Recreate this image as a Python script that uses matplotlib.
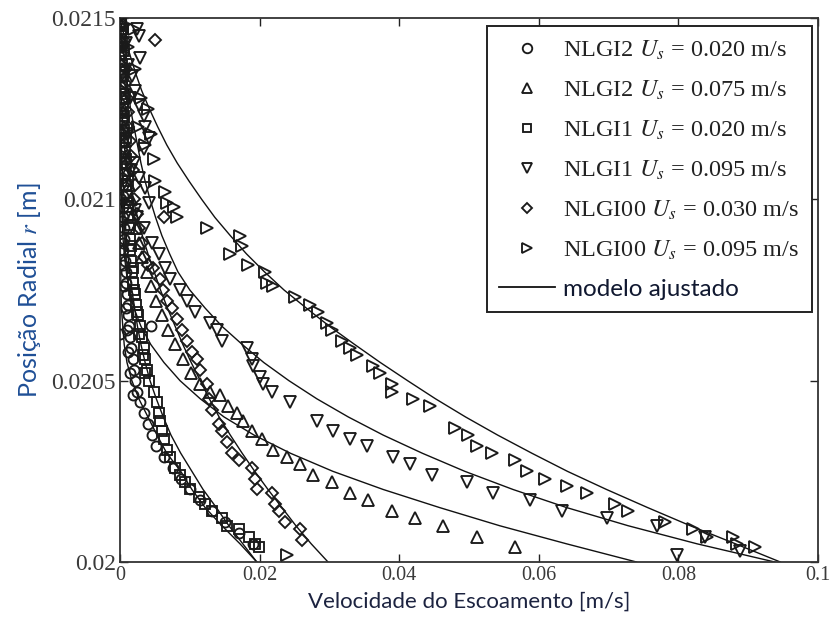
import matplotlib
matplotlib.use("Agg")
import matplotlib.pyplot as plt
from matplotlib.lines import Line2D

# ---------------- data ----------------
# radial levels used for the fitted-model curves
model_r = [0.02150, 0.02145, 0.02140, 0.02135, 0.02130, 0.02125, 0.02120, 0.02115,
           0.02110, 0.02105, 0.02100, 0.02095, 0.02090, 0.02085, 0.02080, 0.02075,
           0.02070, 0.02065, 0.02060, 0.02055, 0.02050, 0.02045, 0.02040, 0.02035,
           0.02030, 0.02025, 0.02020, 0.02015, 0.02010, 0.02005, 0.02000]

# fitted model velocities (m/s) at model_r
model_nlgi00_095 = [0.0, 0.0006, 0.0014, 0.0022, 0.0031, 0.0042, 0.0054, 0.0067, 0.0082, 0.0099,
                    0.0117, 0.0136, 0.0158, 0.0181, 0.0207, 0.0235, 0.0267, 0.0300, 0.0336, 0.0373,
                    0.0412, 0.0452, 0.0495, 0.0541, 0.0590, 0.0641, 0.0697, 0.0756, 0.0817, 0.0882, 0.0946]
model_nlgi1_095 = [0.0, 0.0002, 0.0005, 0.0008, 0.0012, 0.0015, 0.0020, 0.0025, 0.0030, 0.0036,
                   0.0043, 0.0051, 0.0060, 0.0071, 0.0083, 0.0100, 0.0122, 0.0146, 0.0175, 0.0206,
                   0.0242, 0.0282, 0.0327, 0.0377, 0.0433, 0.0494, 0.0563, 0.0640, 0.0728, 0.0827, 0.0938]
model_nlgi2_075 = [0.0, 0.0, 0.00001, 0.00001, 0.00002, 0.00003, 0.00004, 0.00007, 0.0001, 0.00014,
                   0.0002, 0.0003, 0.0004, 0.0006, 0.0009, 0.0013, 0.0020, 0.0030, 0.0044, 0.0063,
                   0.0086, 0.0115, 0.0149, 0.0192, 0.0244, 0.0305, 0.0377, 0.0458, 0.0544, 0.0640, 0.0740]
model_nlgi00_030 = [0.0, 0.00001, 0.00003, 0.00007, 0.00014, 0.0003, 0.0004, 0.0006, 0.0009, 0.0014,
                    0.0019, 0.0025, 0.0032, 0.0040, 0.0049, 0.0058, 0.0068, 0.0079, 0.0090, 0.0102,
                    0.0115, 0.0128, 0.0142, 0.0158, 0.0175, 0.0193, 0.0212, 0.0232, 0.0252, 0.0274, 0.0298]
model_nlgi2_020 = [0.0, 0.0, 0.0, 0.0, 0.0, 0.0, 0.0, 0.0, 0.00001, 0.00001,
                   0.00002, 0.00003, 0.00004, 0.00006, 0.0001, 0.00014, 0.0002, 0.0004, 0.0006, 0.0010,
                   0.0017, 0.0027, 0.0040, 0.0053, 0.0067, 0.0087, 0.0103, 0.0122, 0.0146, 0.0172, 0.0196]
model_nlgi1_020 = [0.0, 0.0, 0.00001, 0.00003, 0.00006, 0.0001, 0.00016, 0.0002, 0.0003, 0.0004,
                   0.0006, 0.0007, 0.0009, 0.0011, 0.0014, 0.0017, 0.0021, 0.0025, 0.0030, 0.0036,
                   0.0043, 0.0052, 0.0062, 0.0073, 0.0087, 0.0103, 0.0119, 0.0138, 0.0156, 0.0176, 0.0196]

# measured data: NLGI2, Us = 0.020 m/s (circles)
nlgi2_020_v = [0.0001, 0.0001, 0.0002, 0.0001, 0.0002, 0.0002, 0.0002, 0.0003, 0.0002, 0.0003,
               0.0003, 0.0003, 0.0004, 0.0003, 0.0004, 0.0004, 0.0005, 0.0004, 0.0005, 0.0006,
               0.0006, 0.0005, 0.0007, 0.0008, 0.0009, 0.0010, 0.0011, 0.0012, 0.0013, 0.0015,
               0.0016, 0.0018, 0.0020, 0.0022, 0.0025, 0.0029, 0.0034, 0.0040, 0.0046, 0.0052,
               0.0063, 0.0076, 0.0088, 0.0101, 0.0115, 0.0132, 0.0150, 0.0170, 0.0190,
               0.0000, 0.0000, 0.0045,
               0.0000, 0.0001, 0.0000, 0.0001, 0.0002, 0.0001, 0.0002, 0.0003, 0.0002, 0.0003,
               0.0004, 0.0005, 0.0006, 0.0008, 0.0010, 0.0012, 0.0015, 0.0019]
nlgi2_020_r = [0.02149, 0.02146, 0.02143, 0.02140, 0.02137, 0.02134, 0.02131, 0.02128, 0.02125, 0.02122,
               0.02119, 0.02116, 0.02113, 0.02110, 0.02107, 0.02104, 0.02101, 0.02098, 0.02095, 0.02092,
               0.02089, 0.02086, 0.02083, 0.02080, 0.02077, 0.02074, 0.02071, 0.02068, 0.02065, 0.02062,
               0.02059, 0.02056, 0.02053, 0.02050, 0.02047, 0.02044, 0.02041, 0.02038, 0.02035, 0.02032,
               0.02029, 0.02026, 0.02023, 0.02020, 0.02017, 0.02014, 0.02011, 0.02008, 0.02005,
               0.02086, 0.02063, 0.02065,
               0.02148, 0.02142, 0.02136, 0.02130, 0.02124, 0.02118, 0.02112, 0.02106, 0.02100, 0.02094,
               0.02088, 0.02082, 0.02076, 0.02070, 0.02064, 0.02058, 0.02052, 0.02046]

# NLGI2, Us = 0.075 m/s (up triangles)
nlgi2_075_v = [0.0001, 0.0002, 0.0001, 0.0003, 0.0002, 0.0004, 0.0005, 0.0006, 0.0007, 0.0009,
               0.0011, 0.0013, 0.0016, 0.0019, 0.0023, 0.0027, 0.0032, 0.0038, 0.0045, 0.0052,
               0.0060, 0.0069, 0.0079, 0.0090, 0.0102, 0.0115,
               0.0129, 0.0143, 0.0155, 0.0168, 0.0176, 0.0189, 0.0203, 0.0219, 0.0239, 0.0258,
               0.0277, 0.0304, 0.0330, 0.0355, 0.0390, 0.0423, 0.0463, 0.0511, 0.0566]
nlgi2_075_r = [0.02148, 0.02144, 0.02140, 0.02136, 0.02132, 0.02128, 0.02124, 0.02120, 0.02116, 0.02112,
               0.02108, 0.02104, 0.02100, 0.02096, 0.02092, 0.02088, 0.02084, 0.02080, 0.02076, 0.02072,
               0.02068, 0.02064, 0.02060, 0.02056, 0.02052, 0.02049,
               0.02047, 0.02046, 0.02043, 0.02041, 0.02039, 0.02036, 0.02034, 0.02031, 0.02029, 0.02027,
               0.02024, 0.02022, 0.02019, 0.02017, 0.02014, 0.02012, 0.02010, 0.02007, 0.02004]

# NLGI1, Us = 0.020 m/s (squares)
nlgi1_020_v = [0.0002, 0.0001, 0.0003, 0.0002, 0.0003, 0.0004, 0.0003, 0.0005, 0.0004, 0.0005,
               0.0006, 0.0005, 0.0007, 0.0008, 0.0007, 0.0009, 0.0010, 0.0011, 0.0012, 0.0013,
               0.0014, 0.0015, 0.0016, 0.0017, 0.0019, 0.0021, 0.0023, 0.0026, 0.0029, 0.0032,
               0.0034, 0.0036, 0.0038, 0.0041,
               0.0049, 0.0053, 0.0056, 0.0057, 0.0060, 0.0063, 0.0067, 0.0072, 0.0079, 0.0086,
               0.0093, 0.0100, 0.0113, 0.0122, 0.0132, 0.0146, 0.0153, 0.0170, 0.0185, 0.0193, 0.0199,
               0.0004, 0.0006, 0.0005, 0.0007, 0.0006, 0.0008, 0.0009, 0.0011, 0.0012, 0.0014,
               0.0016, 0.0018, 0.0020, 0.0024, 0.0027, 0.0033, 0.0036]
nlgi1_020_r = [0.02149, 0.02146, 0.02143, 0.02140, 0.02137, 0.02134, 0.02131, 0.02128, 0.02125, 0.02122,
               0.02119, 0.02116, 0.02113, 0.02110, 0.02107, 0.02104, 0.02101, 0.02098, 0.02095, 0.02092,
               0.02089, 0.02086, 0.02083, 0.02080, 0.02077, 0.02074, 0.02071, 0.02068, 0.02065, 0.02062,
               0.02059, 0.02056, 0.02053, 0.02050,
               0.02047, 0.02044, 0.02041, 0.02039, 0.02036, 0.02034, 0.02031, 0.02029, 0.02026, 0.02024,
               0.02022, 0.02020, 0.02018, 0.02016, 0.02014, 0.02012, 0.02010, 0.02009, 0.02007, 0.02005, 0.02004,
               0.02147, 0.02141, 0.02135, 0.02129, 0.02123, 0.02117, 0.02111, 0.02105, 0.02099, 0.02093,
               0.02087, 0.02081, 0.02075, 0.02069, 0.02063, 0.02057, 0.02052]

# NLGI1, Us = 0.095 m/s (down triangles)
nlgi1_095_v = [0.0024, 0.0027, 0.0029, 0.0017, 0.0021, 0.0027, 0.0034, 0.0036, 0.0042, 0.0034,
               0.0020, 0.0027, 0.0036, 0.0042, 0.0034, 0.0046, 0.0056, 0.0064, 0.0072, 0.0086,
               0.0096, 0.0107, 0.0129, 0.0139, 0.0146, 0.0182, 0.0189, 0.0191, 0.0201, 0.0205,
               0.0218, 0.0244, 0.0282, 0.0305, 0.0330, 0.0354, 0.0391, 0.0415, 0.0447, 0.0497,
               0.0534, 0.0587, 0.0633, 0.0698, 0.0769, 0.0798, 0.0838, 0.0888,
               0.0008, 0.0011, 0.0014, 0.0012, 0.0016, 0.0022, 0.0025]
nlgi1_095_r = [0.02147, 0.02145, 0.02139, 0.02134, 0.02130, 0.02126, 0.02123, 0.02120, 0.02117, 0.02114,
               0.02110, 0.02106, 0.02103, 0.02099, 0.02092, 0.02088, 0.02085, 0.02081, 0.02078, 0.02075,
               0.02072, 0.02069, 0.02066, 0.02064, 0.02061, 0.02059, 0.02056, 0.02054, 0.02051, 0.02049,
               0.02047, 0.02044, 0.02039, 0.02036, 0.02034, 0.02032, 0.02029, 0.02027, 0.02024, 0.02022,
               0.02019, 0.02017, 0.02014, 0.02012, 0.02010, 0.02002, 0.02007, 0.02003,
               0.02143, 0.02137, 0.02128, 0.02118, 0.02108, 0.02097, 0.02095]

# NLGI00, Us = 0.030 m/s (diamonds)
nlgi00_030_v = [0.0050, 0.0004, 0.0006, 0.0005, 0.0008, 0.0007, 0.0010, 0.0012, 0.0011, 0.0014,
                0.0016, 0.0018, 0.0021, 0.0020, 0.0024, 0.0027, 0.0031, 0.0063, 0.0035, 0.0040,
                0.0047, 0.0057, 0.0062, 0.0067, 0.0075, 0.0082, 0.0089, 0.0096, 0.0103, 0.0110,
                0.0115, 0.0125, 0.0128, 0.0132, 0.0142, 0.0146, 0.0153, 0.0160, 0.0170, 0.0189,
                0.0193, 0.0196, 0.0218, 0.0222, 0.0228, 0.0236, 0.0258, 0.0261]
nlgi00_030_r = [0.02144, 0.02148, 0.02144, 0.02140, 0.02136, 0.02132, 0.02128, 0.02124, 0.02120, 0.02116,
                0.02112, 0.02108, 0.02104, 0.02100, 0.02096, 0.02092, 0.02088, 0.02095, 0.02084, 0.02082,
                0.02081, 0.02078, 0.02075, 0.02072, 0.02070, 0.02067, 0.02064, 0.02061, 0.02058, 0.02056,
                0.02053, 0.02049, 0.02045, 0.02042, 0.02038, 0.02036, 0.02033, 0.02030, 0.02028, 0.02026,
                0.02023, 0.02020, 0.02019, 0.02016, 0.02014, 0.02011, 0.02009, 0.02006]

# NLGI00, Us = 0.095 m/s (right triangles)
nlgi00_095_v = [0.0020, 0.0012, 0.0022, 0.0030, 0.0026, 0.0040, 0.0036, 0.0045,
                0.0049, 0.0050, 0.0064, 0.0067, 0.0077, 0.0082, 0.0125, 0.0172, 0.0175, 0.0158,
                0.0183, 0.0208, 0.0211, 0.0219, 0.0251, 0.0272, 0.0284, 0.0297, 0.0304, 0.0318,
                0.0330, 0.0340, 0.0362, 0.0372, 0.0390, 0.0390, 0.0420, 0.0444, 0.0480, 0.0499,
                0.0511, 0.0533, 0.0566, 0.0583, 0.0609, 0.0640, 0.0669, 0.0709, 0.0728, 0.0781,
                0.0821, 0.0841, 0.0878, 0.0884, 0.0910, 0.0239]
nlgi00_095_r = [0.02147, 0.02142, 0.02136, 0.02128, 0.02120, 0.02125, 0.02115, 0.02118,
                0.02111, 0.02105, 0.02102, 0.02099, 0.02098, 0.02095, 0.02092, 0.02090, 0.02087, 0.02085,
                0.02082, 0.02080, 0.02077, 0.02076, 0.02073, 0.02071, 0.02069, 0.02066, 0.02064, 0.02061,
                0.02059, 0.02057, 0.02054, 0.02052, 0.02049, 0.02047, 0.02045, 0.02043, 0.02037, 0.02035,
                0.02032, 0.02030, 0.02028, 0.02025, 0.02023, 0.02021, 0.02019, 0.02016, 0.02014, 0.02011,
                0.02009, 0.02007, 0.02007, 0.02005, 0.02004, 0.02002]

legend_labels = [r"NLGI2 $U_s$ = 0.020 m/s", r"NLGI2 $U_s$ = 0.075 m/s",
                 r"NLGI1 $U_s$ = 0.020 m/s", r"NLGI1 $U_s$ = 0.095 m/s",
                 r"NLGI00 $U_s$ = 0.030 m/s", r"NLGI00 $U_s$ = 0.095 m/s",
                 "modelo ajustado"]
x_ticks = [0, 0.02, 0.04, 0.06, 0.08, 0.1]
x_ticklabels = ["0", "0.02", "0.04", "0.06", "0.08", "0.1"]
y_ticks = [0.02, 0.0205, 0.021, 0.0215]
y_ticklabels = ["0.02", "0.0205", "0.021", "0.0215"]

# ---------------- style ----------------
plt.rcParams["mathtext.fontset"] = "stix"
serif = ["Liberation Serif", "DejaVu Serif"]
sans = ["Lato", "DejaVu Sans"]

fig = plt.figure(figsize=(8.35, 6.28), dpi=100)
ax = fig.add_axes([120 / 835, 66 / 628, 698 / 835, 544 / 628])

mk = dict(linestyle="none", mfc="none", mec="#1a1a1a", mew=1.35)
series = [
    (nlgi2_020_v, nlgi2_020_r, "o", 7.2),
    (nlgi2_075_v, nlgi2_075_r, "^", 8),
    (nlgi1_020_v, nlgi1_020_r, "s", 6.5),
    (nlgi1_095_v, nlgi1_095_r, "v", 8),
    (nlgi00_030_v, nlgi00_030_r, "D", 5.8),
    (nlgi00_095_v, nlgi00_095_r, ">", 8),
]
for v, r, m, s in series:
    ax.plot(v, r, marker=m, ms=s, **mk, zorder=3)

for curve in [model_nlgi00_095, model_nlgi1_095, model_nlgi2_075,
              model_nlgi00_030, model_nlgi2_020, model_nlgi1_020]:
    ax.plot(curve, model_r, color="#111111", lw=1.0, zorder=2)

ax.set_xlim(0, 0.1)
ax.set_ylim(0.02, 0.0215)
ax.set_xticks(x_ticks)
ax.set_xticklabels(x_ticklabels, fontfamily=serif, fontsize=14.5)
ax.set_yticks(y_ticks)
ax.set_yticklabels(y_ticklabels, fontfamily=serif, fontsize=17)
ax.tick_params(direction="in", length=6, width=1.0, top=True, right=True,
               colors="#222222", labelcolor="#3a3a3a", pad=3)
for sp in ax.spines.values():
    sp.set_linewidth(1.3)
    sp.set_color("#333333")

ax.set_xlabel("Velocidade do Escoamento [m/s]", fontfamily=sans, fontsize=16,
              color="#1c2340", labelpad=5)
ax.set_ylabel("Posição Radial $\\mathit{r}$ [m]", fontfamily=sans, fontsize=18,
              color="#1f4f96", labelpad=6)

handles = [Line2D([], [], marker=m, ms=s * 0.95, **mk) for _, _, m, s in series]
handles.append(Line2D([], [], color="#111111", lw=1.3))
leg = ax.legend(handles, legend_labels, loc="upper right", bbox_to_anchor=(0.991, 0.985),
                frameon=True, fancybox=False, edgecolor="#222222", framealpha=1,
                prop={"family": serif, "size": 17.5}, labelspacing=0.69,
                handlelength=2.3, handletextpad=0.35, borderpad=0.5, borderaxespad=0)
leg.get_frame().set_linewidth(1.4)
for t in leg.get_texts():
    t.set_color("#222222")
leg.get_texts()[-1].set_fontfamily(sans)
leg.get_texts()[-1].set_color("#101830")

fig.savefig("out.png", dpi=100, facecolor="white")
